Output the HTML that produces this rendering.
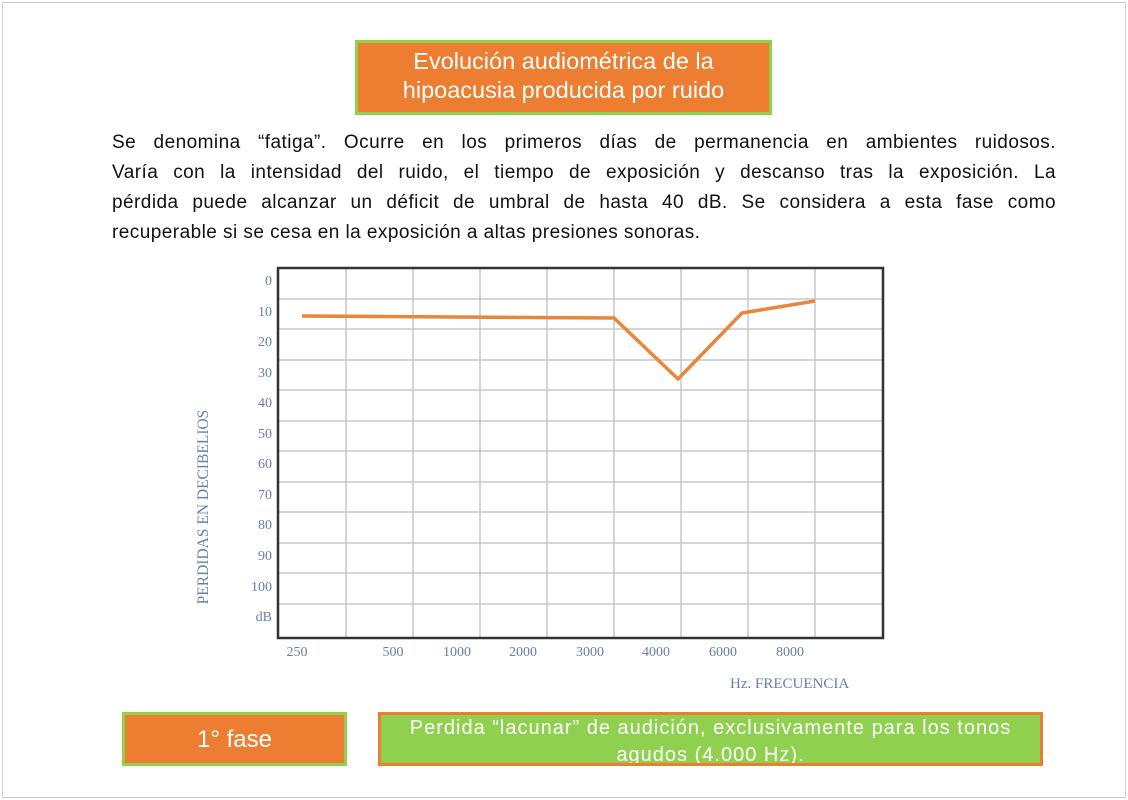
<!DOCTYPE html>
<html><head><meta charset="utf-8"><style>
body{margin:0;width:1128px;height:800px;background:#fff;position:relative;overflow:hidden;font-family:"Liberation Sans","DejaVu Sans",sans-serif}
.frame{position:absolute;left:2px;top:2px;width:1122px;height:794px;border:1px solid #cfcfcf}
.title{position:absolute;left:355px;top:40px;width:411px;height:65px;background:#ed7d31;border:3px solid #8fd14f;color:#fff;font-size:23.5px;line-height:29px;text-align:center;padding-top:4px;box-sizing:content-box;white-space:nowrap}
.para{position:absolute;left:112px;top:128px;width:944px;font-size:19px;line-height:30px;color:#111;letter-spacing:0.45px}
.para div{white-space:nowrap}
.para .j{text-align:justify;text-align-last:justify;white-space:normal}
.b1{position:absolute;left:122px;top:712px;width:219px;height:48px;background:#ed7d31;border:3px solid #8fd14f;color:#fff;font-size:24px;line-height:50px;text-align:center}
.b2{position:absolute;left:378px;top:712px;width:659px;height:48px;background:#8fd14f;border:3px solid #ed7d31;color:#fff;font-size:20px;line-height:27px;text-align:center;overflow:hidden;letter-spacing:1px;white-space:nowrap}
</style></head><body>
<div class="frame"></div>
<div class="title">Evolución audiométrica de la<br>hipoacusia producida por ruido</div>
<div class="para">
<div class="j">Se denomina “fatiga”. Ocurre en los primeros días de permanencia en ambientes ruidosos.</div>
<div class="j">Varía con la intensidad del ruido, el tiempo de exposición y descanso tras la exposición. La</div>
<div class="j">pérdida puede alcanzar un déficit de umbral de hasta 40 dB. Se considera a esta fase como</div>
<div>recuperable si se cesa en la exposición a altas presiones sonoras.</div>
</div>
<svg style="position:absolute;left:0;top:0" width="1128" height="800">
<g stroke="#c8c8c8" stroke-width="1.5">
<line x1="346" y1="268" x2="346" y2="638"/><line x1="413" y1="268" x2="413" y2="638"/><line x1="480" y1="268" x2="480" y2="638"/><line x1="547" y1="268" x2="547" y2="638"/><line x1="614" y1="268" x2="614" y2="638"/><line x1="681" y1="268" x2="681" y2="638"/><line x1="748" y1="268" x2="748" y2="638"/><line x1="815" y1="268" x2="815" y2="638"/>
<line x1="278" y1="299" x2="883" y2="299"/><line x1="278" y1="329" x2="883" y2="329"/><line x1="278" y1="360" x2="883" y2="360"/><line x1="278" y1="390" x2="883" y2="390"/><line x1="278" y1="421" x2="883" y2="421"/><line x1="278" y1="451" x2="883" y2="451"/><line x1="278" y1="482" x2="883" y2="482"/><line x1="278" y1="512" x2="883" y2="512"/><line x1="278" y1="543" x2="883" y2="543"/><line x1="278" y1="573" x2="883" y2="573"/><line x1="278" y1="604" x2="883" y2="604"/>
</g>
<rect x="278" y="268" width="605" height="370" fill="none" stroke="#333" stroke-width="2.5"/>
<g font-family="Liberation Serif,serif" font-size="14" fill="#6b7fa3" text-anchor="end">
<text x="272" y="285">0</text><text x="272" y="316">10</text><text x="272" y="346">20</text><text x="272" y="377">30</text><text x="272" y="407">40</text><text x="272" y="438">50</text><text x="272" y="468">60</text><text x="272" y="499">70</text><text x="272" y="529">80</text><text x="272" y="560">90</text><text x="272" y="591">100</text><text x="272" y="621">dB</text>
</g>
<g font-family="Liberation Serif,serif" font-size="14" fill="#6b7fa3" text-anchor="middle">
<text x="297" y="656">250</text><text x="393" y="656">500</text><text x="457" y="656">1000</text><text x="523" y="656">2000</text><text x="590" y="656">3000</text><text x="656" y="656">4000</text><text x="723" y="656">6000</text><text x="790" y="656">8000</text>
<text x="730" y="688" font-size="15" text-anchor="start">Hz.  FRECUENCIA</text>
<text transform="translate(208,507) rotate(-90)" font-size="15.5">PERDIDAS EN DECIBELIOS</text>
</g>
<polyline points="302,316 614,318 678,379 742,313 815,301" fill="none" stroke="#e9863a" stroke-width="3.5" stroke-linejoin="round"/>
</svg>
<div class="b1">1° fase</div>
<div class="b2">Perdida “lacunar” de audición, exclusivamente para los tonos<br>agudos (4.000 Hz).</div>
</body></html>
